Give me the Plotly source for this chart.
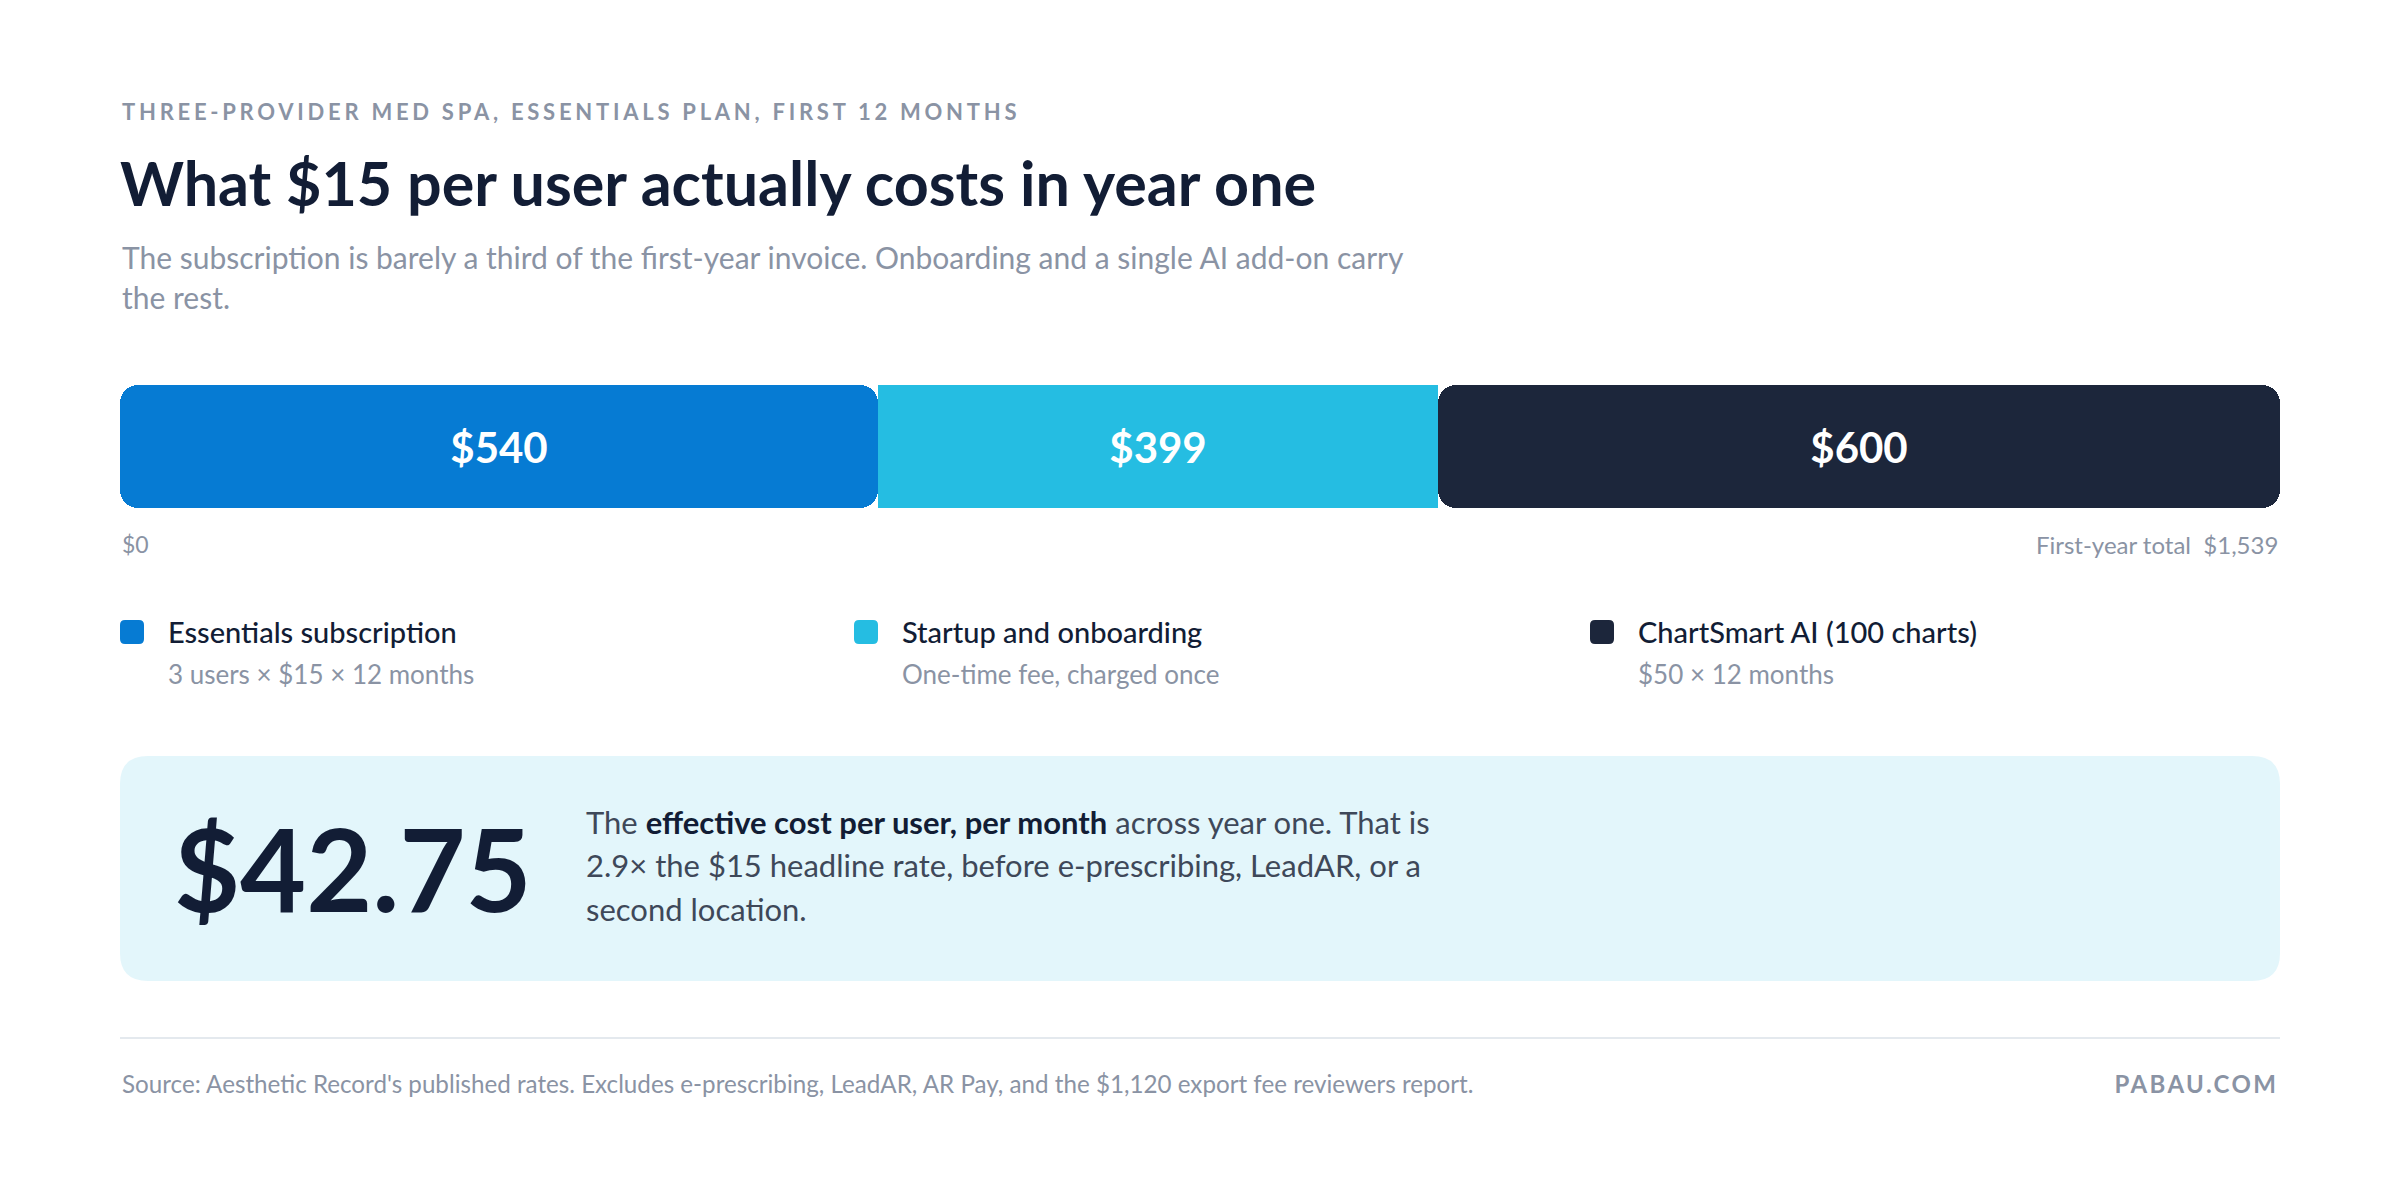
import plotly.graph_objects as go

W, H = 2400, 1202

# data
segments = ["Essentials subscription", "Startup and onboarding", "ChartSmart AI (100 charts)"]
costs = [540, 399, 600]
notes = ["3 users × $15 × 12 months", "One-time fee, charged once", "$50 × 12 months"]
colors = ["#067bd3", "#25bde2", "#1c263b"]
total_label = "First-year total"
effective_cost = "$42.75"

DARK = "#121d35"
GRAY = "#8a93a4"
BODY = "#3e4859"
FONT = "Lato"
LEFT, RIGHT = 120, 2280


def px(x):
    return x / W


def py(y):
    return 1 - y / H


def rounded_rect(x0, y0, x1, y1, r):
    # pixel box -> paper path with rounded corners
    rx, ry = r / W, r / H
    a, b, c, d = px(x0), py(y0), px(x1), py(y1)
    return (f"M{a + rx},{b} L{c - rx},{b} Q{c},{b} {c},{b - ry} "
            f"L{c},{d + ry} Q{c},{d} {c - rx},{d} "
            f"L{a + rx},{d} Q{a},{d} {a},{d + ry} "
            f"L{a},{b - ry} Q{a},{b} {a + rx},{b} Z")


total = sum(costs)
starts = [sum(costs[:i]) for i in range(len(costs))]

fig = go.Figure()
for i, (name, v) in enumerate(zip(segments, costs)):
    # first segment is drawn backwards from its end so its rounded end sits at $0
    if i == 0:
        base, length, rad = starts[i] + v, -v, 18
    else:
        base, length, rad = starts[i], v, (18 if i == len(costs) - 1 else 0)
    fig.add_trace(go.Bar(
        y=["Year one"], x=[length], base=[base], orientation="h",
        name=name, text=[f"${v:,}"], texttemplate="%{text}",
        textposition="inside", insidetextanchor="middle",
        textfont=dict(family=FONT, size=42, color="white", weight=700),
        marker=dict(color=colors[i], line=dict(width=0), cornerradius=rad),
        hoverinfo="skip", showlegend=False,
    ))

fig.update_layout(
    width=W, height=H, margin=dict(l=0, r=0, t=0, b=0),
    paper_bgcolor="white", plot_bgcolor="white",
    barmode="overlay", bargap=0,
    xaxis=dict(range=[0, total], domain=[px(LEFT), px(RIGHT)], visible=False, fixedrange=True),
    yaxis=dict(range=[-0.5, 0.5], domain=[py(508), py(385)], visible=False, fixedrange=True),
    font=dict(family=FONT, color=DARK),
)

ann = []


def text(x, y, s, size, color=DARK, weight=400, anchor="left", xref="paper"):
    ann.append(dict(x=x if xref != "paper" else px(x), y=py(y), xref=xref, yref="paper",
                    text=s, showarrow=False, xanchor=anchor, yanchor="middle",
                    font=dict(family=FONT, size=size, color=color, weight=weight)))


text(LEFT, 111, "THREE-PROVIDER MED SPA, ESSENTIALS PLAN, FIRST 12 MONTHS", 22, GRAY, 700)
text(118, 183, "What $15 per user actually costs in year one", 61, DARK, 700)
text(LEFT, 257, "The subscription is barely a third of the first-year invoice. Onboarding and a single AI add-on carry", 30, GRAY)
text(LEFT, 297, "the rest.", 30, GRAY)

# axis end labels, placed on the bar's own scale
text(0, 544, "$0", 23, GRAY, xref="x")
text(total, 544, f"{total_label}\u00a0\u00a0${total:,}", 24, GRAY, anchor="right", xref="x")

# legend
shapes = []
col_x = [LEFT, 854, 1590]
for i, name in enumerate(segments):
    x0 = col_x[i]
    shapes.append(dict(type="path", path=rounded_rect(x0, 620, x0 + 24, 644, 5),
                       xref="paper", yref="paper", fillcolor=colors[i], line=dict(width=0)))
    text(x0 + 46, 631, name, 29, DARK, 500)
    text(x0 + 46, 674, notes[i], 26, GRAY)

# callout
shapes.append(dict(type="path", path=rounded_rect(LEFT, 756, RIGHT, 981, 28),
                   xref="paper", yref="paper", fillcolor="#e3f6fb", line=dict(width=0), layer="below"))
text(172, 867, effective_cost, 114, DARK, 700)
text(584, 822, f"The <span style='color:{DARK}'><b>effective cost per user, per month</b></span> across year one. That is", 31, BODY)
text(584, 865, "2.9× the $15 headline rate, before e-prescribing, LeadAR, or a", 31, BODY)
text(584, 909, "second location.", 31, BODY)

# footer
shapes.append(dict(type="line", x0=px(LEFT), x1=px(RIGHT), y0=py(1038), y1=py(1038),
                   xref="paper", yref="paper", line=dict(color="#e4e9ee", width=2)))
text(LEFT, 1083, "Source: Aesthetic Record's published rates. Excludes e-prescribing, LeadAR, AR Pay, and the $1,120 export fee reviewers report.", 24.2, GRAY)
text(RIGHT, 1083, "PABAU.COM", 24, GRAY, 700, anchor="right")

fig.update_layout(annotations=ann, shapes=shapes)

# page margin off, plus tracking for the caps labels (plotly fonts have no letter-spacing)
js = """
document.body.style.margin = '0';
var gd = document.getElementById('{plot_id}');
function track(t, sp, side) {
  var bb = t.getBBox();
  t.setAttribute('text-anchor', side);
  t.setAttribute('x', side === 'start' ? bb.x : bb.x + bb.width);
  t.style.letterSpacing = sp;
}
gd.querySelectorAll('text.annotation-text').forEach(function(t){
  var s = t.textContent;
  if (s.indexOf('THREE-PROVIDER') === 0) track(t, '0.17em', 'start');
  if (s === 'PABAU.COM') track(t, '0.1em', 'end');
});
"""

fig.write_html("out.html", post_script=js, config={"displayModeBar": False})
